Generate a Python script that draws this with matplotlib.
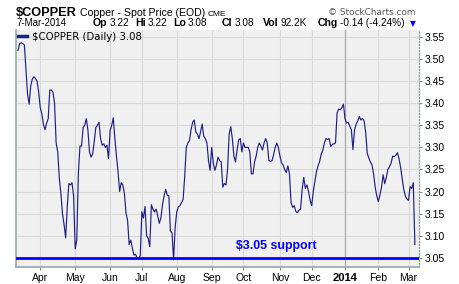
import numpy as np
import pandas as pd
import matplotlib
matplotlib.use("Agg")
import matplotlib.pyplot as plt

plt.rcParams['font.family'] = ['Liberation Sans', 'DejaVu Sans']

# ---------------- data ----------------
holidays = ['2013-03-29', '2013-05-27', '2013-07-04', '2013-09-02', '2013-11-28',
            '2013-12-25', '2014-01-01', '2014-01-20', '2014-02-17']
dates = pd.bdate_range('2013-03-11', '2014-03-07', freq='C', holidays=holidays)

close = [
    3.520, 3.535, 3.537, 3.535, 3.532, 3.475, 3.420, 3.398, 3.440, 3.455,
    3.460, 3.456, 3.450, 3.425, 3.390, 3.376, 3.352, 3.340, 3.355, 3.365,
    3.430, 3.430, 3.425, 3.400, 3.310, 3.290, 3.230, 3.195, 3.150, 3.125,
    3.095, 3.165, 3.218, 3.215, 3.220, 3.190, 3.070, 3.090, 3.240, 3.303,
    3.303, 3.345, 3.350, 3.365, 3.340, 3.290, 3.278, 3.285, 3.313, 3.345,
    3.350, 3.357, 3.320, 3.305, 3.308, 3.300, 3.305, 3.275, 3.338, 3.350,
    3.367, 3.320, 3.280, 3.245, 3.200, 3.220, 3.215, 3.196, 3.152, 3.135,
    3.080, 3.090, 3.072, 3.056, 3.058, 3.050, 3.047, 3.055, 3.154, 3.140,
    3.166, 3.100, 3.094, 3.075, 3.170, 3.160, 3.154, 3.160, 3.145, 3.128,
    3.140, 3.170, 3.190, 3.205, 3.192, 3.190, 3.110, 3.107, 3.045, 3.120,
    3.154, 3.165, 3.168, 3.175, 3.182, 3.235, 3.300, 3.310, 3.315, 3.340,
    3.357, 3.362, 3.335, 3.330, 3.320, 3.335, 3.353, 3.325, 3.320, 3.310,
    3.270, 3.248, 3.300, 3.265, 3.248, 3.260, 3.278, 3.270, 3.267, 3.210,
    3.218, 3.215, 3.250, 3.330, 3.347, 3.320, 3.280, 3.267, 3.294, 3.317,
    3.320, 3.290, 3.310, 3.300, 3.300, 3.300, 3.290, 3.240, 3.240, 3.267,
    3.280, 3.300, 3.310, 3.303, 3.294, 3.310, 3.320, 3.310, 3.271, 3.268,
    3.270, 3.283, 3.300, 3.310, 3.300, 3.280, 3.265, 3.260, 3.250, 3.243,
    3.258, 3.240, 3.175, 3.164, 3.168, 3.155, 3.152, 3.158, 3.160, 3.205,
    3.232, 3.207, 3.215, 3.200, 3.181, 3.168, 3.200, 3.222, 3.245, 3.258,
    3.268, 3.285, 3.293, 3.310, 3.320, 3.318, 3.320, 3.302, 3.307, 3.308,
    3.310, 3.378, 3.387, 3.385, 3.390, 3.398, 3.365, 3.355, 3.357, 3.348,
    3.340, 3.295, 3.340, 3.352, 3.360, 3.370, 3.362, 3.366, 3.360, 3.335,
    3.287, 3.276, 3.267, 3.260, 3.240, 3.210, 3.190, 3.177, 3.192, 3.210,
    3.238, 3.218, 3.232, 3.250, 3.256, 3.264, 3.280, 3.279, 3.282, 3.288,
    3.275, 3.255, 3.230, 3.205, 3.190, 3.183, 3.180, 3.211, 3.207, 3.220, 3.080,
]
support_level = 3.05
yticks = [3.05, 3.10, 3.15, 3.20, 3.25, 3.30, 3.35, 3.40, 3.45, 3.50, 3.55]
header_items = [('Op', '3.22'), ('Hi', '3.22'), ('Lo', '3.08'), ('Cl', '3.08'),
                ('Vol', '92.2K'), ('Chg', '-0.14 (-4.24%)')]

# ---------------- figure ----------------
W, H = 460, 284
fig = plt.figure(figsize=(W / 100, H / 100), dpi=100)
fig.patch.set_facecolor('white')

def fx(p):
    return p / W

def fy(p):
    return 1 - p / H

L, R, T, B = 16.3, 419.3, 30, 267
ax = fig.add_axes([fx(L), 1 - B / H, (R - L) / W, (B - T) / H])
ax.set_facecolor('#f0f0f0')

x = np.arange(len(close))
ax.plot(x, close, color='#1f1f8c', lw=0.85, zorder=3,
        label=r'\$COPPER (Daily) %.2f' % close[-1])
ax.axhline(support_level, color='#0000ff', lw=2.0, zorder=4)

ax.set_ylim(3.029, 3.566)
ax.set_xlim(-1.1, 252.8)

# y axis on right
ax.yaxis.tick_right()
ax.set_yticks(yticks)
ax.set_yticklabels(['%.2f' % v for v in yticks])
ax.tick_params(axis='y', length=2.5, width=0.8, color='#7f948d', pad=1.0,
               labelsize=7.5, right=True, left=False)

# x axis month ticks
month_idx = [i for i in range(1, len(dates)) if dates[i].month != dates[i - 1].month]
month_lbl = [('%d' % dates[i].year) if dates[i].month == 1 else dates[i].strftime('%b')
             for i in month_idx]
ax.set_xticks(month_idx)
ax.set_xticklabels(month_lbl)
ax.tick_params(axis='x', length=2, width=0.8, color='#7f948d', pad=2.2, labelsize=7.5)
for t in ax.get_xticklabels():
    if t.get_text().isdigit():
        t.set_fontweight('bold')
        t.set_fontsize(8)

ax.grid(True, color='#d9d9d9', lw=0.8, zorder=0)
ax.set_axisbelow(True)
for i in month_idx:
    if dates[i].month == 1:
        ax.axvline(i, color='#a9a9a9', lw=0.9, zorder=1)

for s in ['left', 'bottom']:
    ax.spines[s].set_color('#9cb0a9')
    ax.spines[s].set_linewidth(1.3)
ax.spines['top'].set_visible(False)
ax.spines['right'].set_color('#8fa39c')
ax.spines['right'].set_linestyle((0, (1, 1.5)))
ax.spines['right'].set_linewidth(0.9)

# legend
leg = ax.legend(loc='upper left', frameon=False, handlelength=0.9, handletextpad=0.45,
                borderaxespad=0.05, borderpad=0.1,
                prop={'family': 'DejaVu Sans', 'size': 7.3})
for ln in leg.get_lines():
    ln.set_linewidth(2.5)

# support annotation
ax.annotate(r'\$3.05 support', xy=(0.545, support_level),
            xycoords=('axes fraction', 'data'), xytext=(0, 4), textcoords='offset points',
            color='#0000ff', fontsize=8.9, fontweight='bold', va='bottom', ha='left', zorder=5)

# header
fig.canvas.draw()
rend = fig.canvas.get_renderer()

def after(t, gap):
    return t.get_window_extent(rend).x1 + gap

t1 = fig.text(fx(16), fy(15.5), r'\$COPPER', fontsize=9.2, fontweight='bold', va='baseline')
t2 = fig.text(fx(after(t1, 3)), fy(15.5), 'Copper - Spot Price (EOD)', fontsize=7.6,
              va='baseline')
fig.text(fx(after(t2, 3)), fy(15.5), 'CME', fontsize=6.0, va='baseline')
fig.text(fx(416), fy(15), '\u00a9 StockCharts.com', fontsize=6.4, color='#555555',
         family='DejaVu Sans', va='baseline', ha='right')
fig.text(fx(16), fy(26.5), '7-Mar-2014', fontsize=7.0, va='baseline')

label_x = [93, 135, 173, 222, 263, 318]
for (lab, val), lx in zip(header_items, label_x):
    tl = fig.text(fx(lx), fy(26.5), lab, fontsize=7.6, fontweight='bold', va='baseline')
    fig.text(fx(after(tl, 2.0)), fy(26.5), val, fontsize=7.2, va='baseline')
fig.text(fx(410), fy(26), '\u25bc', fontsize=5.5, color='#0000ff', va='baseline',
         family='DejaVu Sans')

fig.savefig('out.png', dpi=100, facecolor='white')
